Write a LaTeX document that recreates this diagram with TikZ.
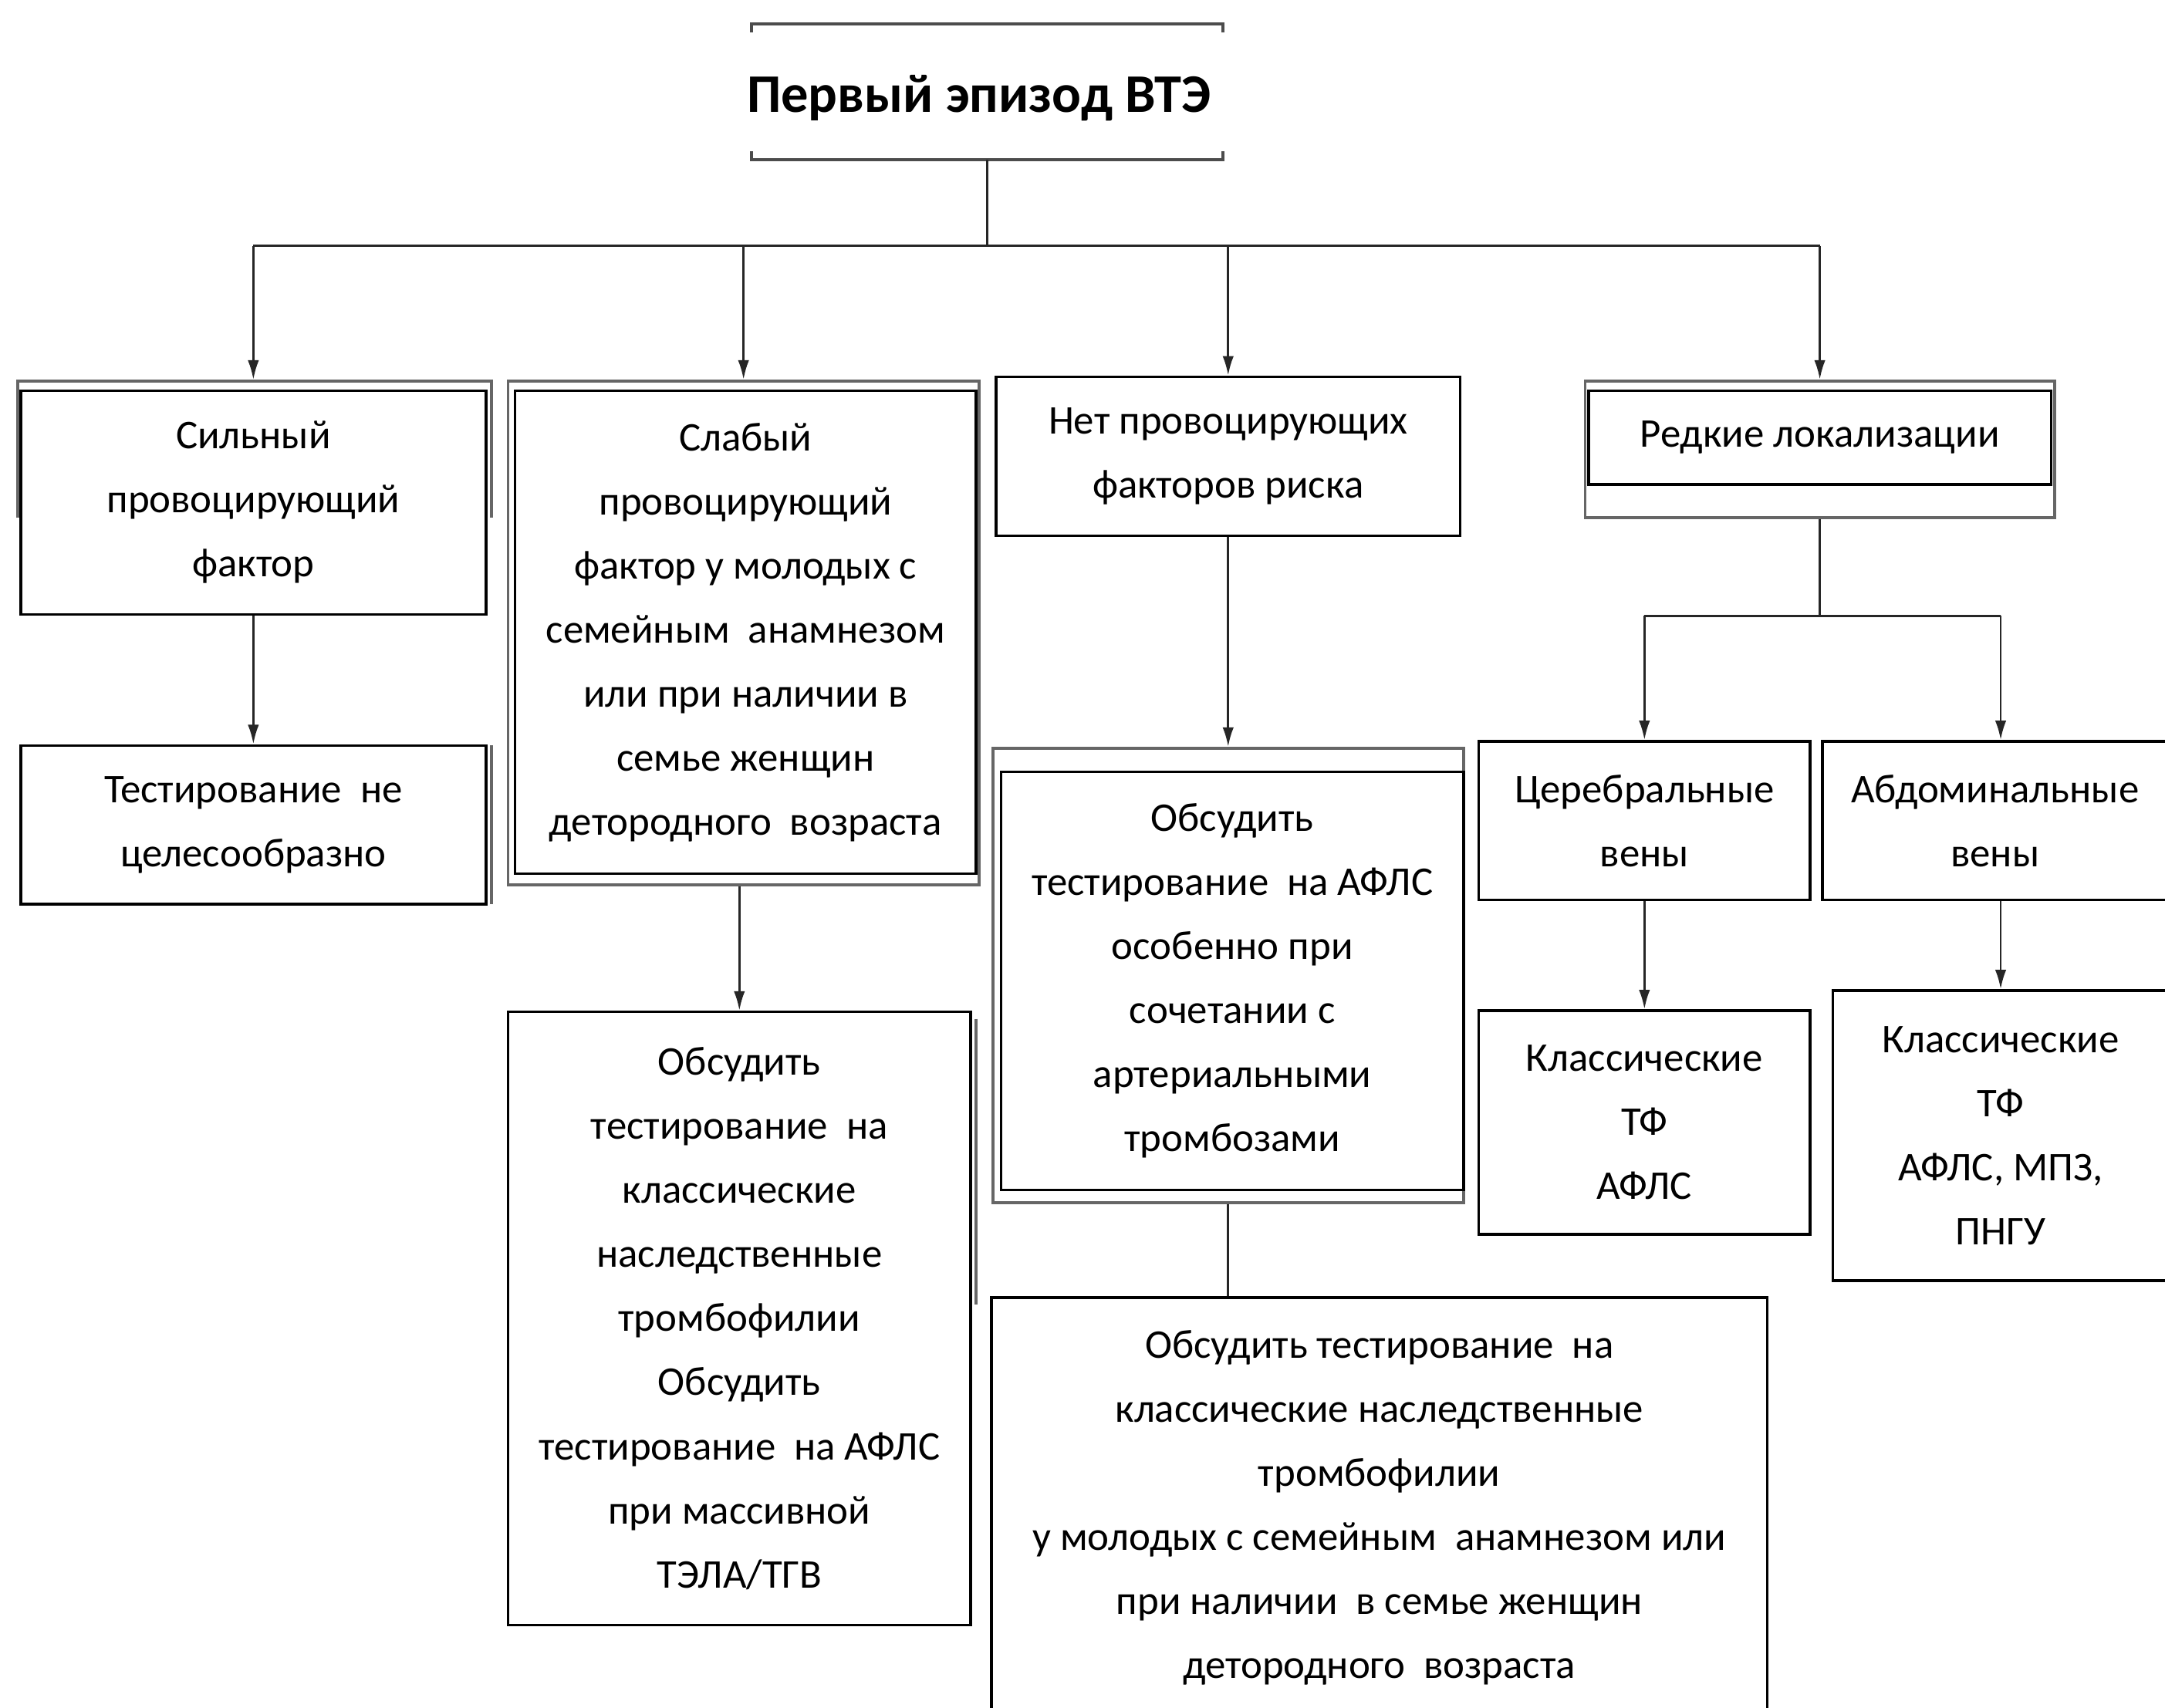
\documentclass[tikz,border=0pt]{standalone}
\usepackage{fontspec}
\setmainfont{Carlito}
\usetikzlibrary{arrows.meta}
\begin{document}
\begin{tikzpicture}[x=0.01cm,y=-0.01cm,
  sz/.style 2 args={minimum width=#1*0.01cm, minimum height=#2*0.01cm},
  box/.style={draw=black, line width=0.55pt, inner sep=0pt, align=center,
    font=\fontsize{8.4}{13.2}\selectfont},
  frame/.style={draw=black!60, line width=0.6pt, inner sep=0pt},
  conn/.style={draw=black!85, line width=0.45pt},
  arr/.style={conn, -{Latex[length=4pt,width=2.3pt]}},
]
\useasboundingbox[fill=white] (0,0) rectangle (1568,1237);

% title
\node[inner sep=0pt, sz={340}{97}] (tf) at (715,66.5) {};
\node[inner sep=0pt, font=\bfseries\fontsize{11.2}{13}\selectfont] (t) at (709,71) {Первый эпизод ВТЭ};
\draw[line width=0.6pt, black!70] ([yshift=-0.06cm]tf.north west) -- (tf.north west) -- (tf.north east) -- ([yshift=-0.06cm]tf.north east);
\draw[line width=0.6pt, black!70] ([yshift=0.06cm]tf.south west) -- (tf.south west) -- (tf.south east) -- ([yshift=0.06cm]tf.south east);

% outer frames
\node[frame, sz={341}{365}] (b2o) at (538.5,458.5) {};
\node[frame, sz={341}{329}] (b3to) at (889.5,706.5) {};
\node[frame, sz={340}{99}] (b4o) at (1318,325.5) {};
\draw[frame] (13,375) -- (13,276) -- (356,276) -- (356,375);
\draw[frame] (356,540) -- (356,655);
\draw[frame] (707,738) -- (707,945);

% boxes
\node[box, fill=white, sz={337}{162}] (b1) at (183.5,364) {Сильный\\провоцирующий\\фактор};
\node[box, sz={337}{115}] (b1t) at (183.5,597.5) {Тестирование\ \ не\\целесообразно};
\node[box, fill=white, sz={334}{350}] (b2) at (540,458) {Слабый\\провоцирующий\\фактор у молодых с\\семейным\ \ анамнезом\\или при наличии в\\семье женщин\\детородного\ \ возраста};
\node[box, sz={335}{444}] (b2t) at (535.5,955) {Обсудить\\тестирование\ \ на\\классические\\наследственные\\тромбофилии\\Обсудить\\тестирование\ \ на АФЛС\\при массивной\\ТЭЛА/ТГВ};
\node[box, sz={336}{115}] (b3) at (889.5,330.5) {Нет провоцирующих\\факторов риска};
\node[box, fill=white, sz={335}{303}] (b3t) at (892.5,710.5) {Обсудить\\тестирование\ \ на АФЛС\\особенно при\\сочетании с\\артериальными\\тромбозами};
\node[box, sz={562}{304}] (b3b) at (999,1092) {Обсудить тестирование\ \ на\\классические наследственные\\тромбофилии\\у молодых с семейным\ \ анамнезом или\\при наличии\ \ в семье женщин\\детородного\ \ возраста};
\node[box, fill=white, sz={335}{68}] (b4) at (1318,317) {Редкие локализации};
\node[box, sz={240}{115}] (c1) at (1191,594.5) {Церебральные\\вены};
\node[box, sz={250}{115}] (c2) at (1445,594.5) {Абдоминальные\\вены};
\node[box, sz={240}{162}] (d1) at (1191,813) {Классические\\ТФ\\АФЛС};
\node[box, sz={243}{210}] (d2) at (1449,822.5) {Классические\\ТФ\\АФЛС, МПЗ,\\ПНГУ};

% connectors
\coordinate (bus) at (715,178);
\coordinate (j) at (1318,446);
\draw[conn] (tf.south) -- (bus);
\draw[conn] (b1.north |- bus) -- (b4o.north |- bus);
\draw[arr] (b1.north |- bus) -- ([yshift=0.07cm]b1.north);
\draw[arr] (b2o.north |- bus) -- (b2o.north);
\draw[arr] (b3.north |- bus) -- (b3.north);
\draw[arr] (b4o.north |- bus) -- (b4o.north);
\draw[arr] (b1.south) -- (b1t.north);
\draw[arr] (b2o.south -| b2t.north) -- (b2t.north);
\draw[arr] (b3.south) -- (b3to.north);
\draw[conn] (b3to.south) -- (b3to.south |- b3b.north);
\draw[conn] (b4o.south) -- (j);
\draw[conn] (c1.north |- j) -- (d2.north |- j);
\draw[arr] (c1.north |- j) -- (c1.north);
\draw[arr] (d2.north |- j) -- (d2.north |- c2.north);
\draw[arr] (c1.south) -- (d1.north);
\draw[arr] (d2.north |- c2.south) -- (d2.north);
\end{tikzpicture}
\end{document}
